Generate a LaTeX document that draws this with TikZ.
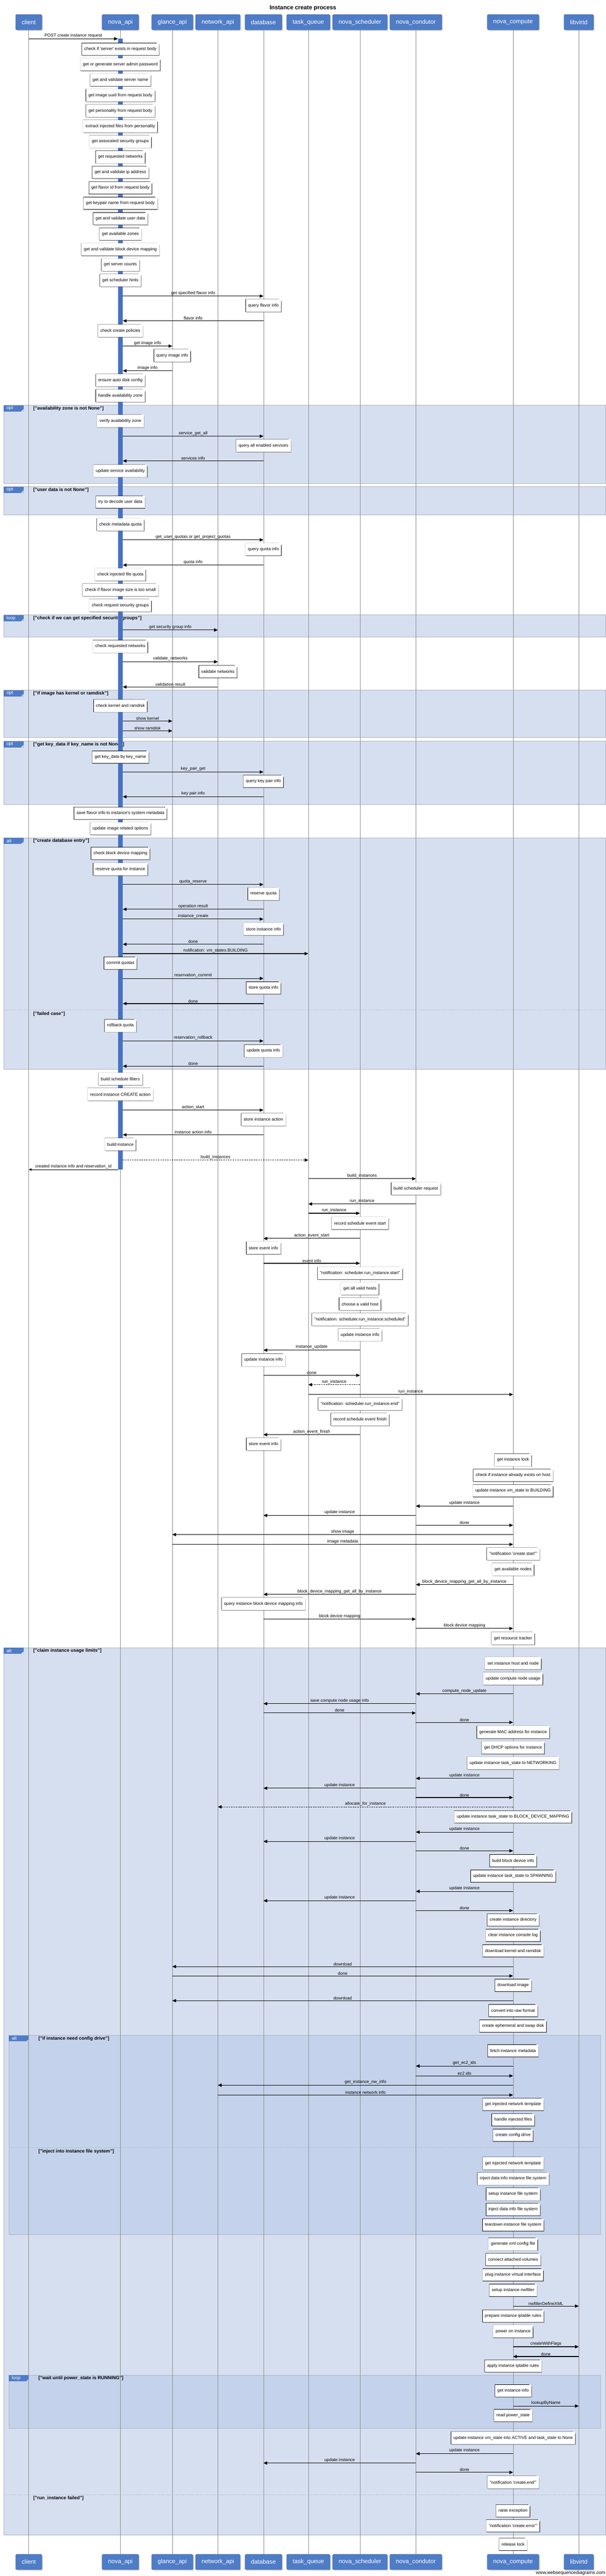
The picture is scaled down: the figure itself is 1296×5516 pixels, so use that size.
\documentclass[tikz,border=0pt]{standalone}
\usepackage{fontspec}
\setmainfont{Liberation Sans}
\usetikzlibrary{positioning,arrows.meta,shadows,backgrounds}
\definecolor{actorblue}{RGB}{79,124,198}
\definecolor{actorline}{RGB}{52,88,150}
\definecolor{barblue}{RGB}{70,114,196}
\definecolor{fbg}{RGB}{214,223,240}
\definecolor{fbgin}{RGB}{196,210,235}
\definecolor{fbd}{RGB}{172,179,192}
\begin{document}
\begin{tikzpicture}[x=1pt, y=-1pt, node distance=5405pt,
  actor/.style = {draw=actorline, fill=actorblue, rounded corners=2pt, text=white, font=\fontsize{12.9}{15}\selectfont, minimum height=33pt, inner xsep=13pt, drop shadow={shadow xshift=2pt, shadow yshift=-2pt, opacity=.35}},
  life/.style = {draw=black!45, line width=.6pt},
  actbar/.style = {fill=barblue, minimum width=10pt, inner sep=0pt, anchor=north},
  memo/.style = {fill=white, anchor=north, minimum height=26pt, inner xsep=5pt, inner ysep=1pt, font=\fontsize{9.2}{11}\selectfont, drop shadow={shadow xshift=2pt, shadow yshift=-2pt, opacity=.3},
    append after command={\pgfextra{
      \draw[line width=.8pt] (\tikzlastnode.north west) -- ([xshift=-5pt]\tikzlastnode.north east) -- ([yshift=-5pt]\tikzlastnode.north east) |- (\tikzlastnode.south west) -- cycle;
      \draw[line width=.5pt] ([xshift=-5pt]\tikzlastnode.north east) |- ([yshift=-5pt]\tikzlastnode.north east);}}},
  msg/.style = {-{Triangle[length=8pt, width=7pt]}, line width=1.2pt},
  async/.style = {msg, dash pattern=on 3pt off 2pt},
  reply/.style = {-{Triangle[length=6pt, width=5pt]}, line width=.8pt},
  lbl/.style = {above, inner sep=1.5pt, font=\fontsize{9.2}{11}\selectfont},
  fragment/.style = {fill=fbg, draw=fbd, line width=.8pt},
  subfragment/.style = {fill=fbgin, draw=fbd, line width=.8pt},
  tab/.style = {fill=actorblue, text=white, anchor=north west, text width=30pt, align=left, inner xsep=6pt, inner ysep=0pt, minimum height=13pt, font=\fontsize{10}{12}\selectfont,
    path picture={\fill[#1] ([xshift=-5pt]path picture bounding box.south east) -- (path picture bounding box.south east) -- ([yshift=5pt]path picture bounding box.south east) -- cycle;}},
  guard/.style = {anchor=west, inner sep=0pt, font=\bfseries\fontsize{10}{12}\selectfont},
  divider/.style = {draw=fbd, line width=.8pt, dash pattern=on 2pt off 2pt}]
\useasboundingbox (0,0) rectangle (1296,5516);
\node[font=\bfseries\fontsize{12.5}{15}\selectfont] (title) at (648,17) {Instance create process};

\node[actor] (client) at (61.5,47.5) {client};
\node[actor] (api) at (257.5,47.5) {nova\_api};
\node[actor] (glance) at (368.5,47.5) {glance\_api};
\node[actor] (network) at (466,47.5) {network\_api};
\node[actor] (db) at (563.5,47.5) {database};
\node[actor] (queue) at (659.5,47.5) {task\_queue};
\node[actor] (sched) at (770,47.5) {nova\_scheduler};
\node[actor] (cond) at (889.5,47.5) {nova\_condutor};
\node[actor] (compute) at (1097.5,47.5) {nova\_compute};
\node[actor] (libvirt) at (1238,47.5) {libvirtd};
\node[actor] (client-b) [below=of client] {client};
\node[actor] (api-b) [below=of api] {nova\_api};
\node[actor] (glance-b) [below=of glance] {glance\_api};
\node[actor] (network-b) [below=of network] {network\_api};
\node[actor] (db-b) [below=of db] {database};
\node[actor] (queue-b) [below=of queue] {task\_queue};
\node[actor] (sched-b) [below=of sched] {nova\_scheduler};
\node[actor] (cond-b) [below=of cond] {nova\_condutor};
\node[actor] (compute-b) [below=of compute] {nova\_compute};
\node[actor] (libvirt-b) [below=of libvirt] {libvirtd};
\draw[life] (client) -- (client-b);
\draw[life] (api) -- (api-b);
\draw[life] (glance) -- (glance-b);
\draw[life] (network) -- (network-b);
\draw[life] (db) -- (db-b);
\draw[life] (queue) -- (queue-b);
\draw[life] (sched) -- (sched-b);
\draw[life] (cond) -- (cond-b);
\draw[life] (compute) -- (compute-b);
\draw[life] (libvirt) -- (libvirt-b);
\node[anchor=east, inner sep=0pt, font=\fontsize{10}{12}\selectfont] (wsd) at (1295,5510) {www.websequencediagrams.com};

\node[actbar, minimum height=2421pt] (bar) at (api |- 0,83) {};
\draw[msg] (client |- bar.north) -- node[lbl] {POST create instance request} (bar.north west);
\node[memo] (n1) at (api |- 0,92) {check if \textquotesingle server\textquotesingle{} exists in request body};
\node[memo] (n2) at (api |- 0,125) {get or generate server admin password};
\node[memo] (n3) at (api |- 0,158) {get and validate server name};
\node[memo] (n4) at (api |- 0,191) {get image uuid from request body};
\node[memo] (n5) at (api |- 0,224) {get personality from request body};
\node[memo] (n6) at (api |- 0,257) {extract injected files from personality};
\node[memo] (n7) at (api |- 0,290) {get assocated security groups};
\node[memo] (n8) at (api |- 0,323) {get requested networks};
\node[memo] (n9) at (api |- 0,356) {get and validate ip address};
\node[memo] (n10) at (api |- 0,389) {get flavor id from request body};
\node[memo] (n11) at (api |- 0,422) {get keypair name from request body};
\node[memo] (n12) at (api |- 0,455) {get and validate user data};
\node[memo] (n13) at (api |- 0,488) {get available zones};
\node[memo] (n14) at (api |- 0,521) {get and validate block device mapping};
\node[memo] (n15) at (api |- 0,554) {get server counts};
\node[memo] (n16) at (api |- 0,587) {get scheduler hints};
\draw[msg] (bar.east |- 0,634) -- node[lbl] {get specified flavor info} (db |- 0,634);
\node[memo] (n17) at (db |- 0,641) {query flavor info};
\draw[msg] (db |- 0,687) -- node[lbl] {flavor info} (bar.east |- 0,687);
\node[memo] (n18) at (api |- 0,695) {check create policies};
\draw[msg] (bar.east |- 0,741) -- node[lbl] {get image info} (glance |- 0,741);
\node[memo] (n19) at (glance |- 0,748) {query image info};
\draw[msg] (glance |- 0,794) -- node[lbl] {image info} (bar.east |- 0,794);
\node[memo] (n20) at (api |- 0,801) {ensure auto disk config};
\node[memo] (n21) at (api |- 0,834) {handle availability zone};
\node[memo] (n22) at (api |- 0,888) {verify availability zone};
\draw[msg] (bar.east |- 0,934) -- node[lbl] {service\_get\_all} (db |- 0,934);
\node[memo] (n23) at (db |- 0,941) {query all enabled services};
\draw[msg] (db |- 0,987) -- node[lbl] {services info} (bar.east |- 0,987);
\node[memo] (n24) at (api |- 0,995) {update service availability};
\node[memo] (n25) at (api |- 0,1062) {try to decode user data};
\node[memo] (n26) at (api |- 0,1110) {check metadata quota};
\draw[msg] (bar.east |- 0,1156) -- node[lbl] {get\_user\_quotas or get\_project\_quotas} (db |- 0,1156);
\node[memo] (n27) at (db |- 0,1163) {query quota info};
\draw[msg] (db |- 0,1210) -- node[lbl] {quota info} (bar.east |- 0,1210);
\node[memo] (n28) at (api |- 0,1217) {check injected file quota};
\node[memo] (n29) at (api |- 0,1250) {check if flavor image size is too small};
\node[memo] (n30) at (api |- 0,1283) {check request security groups};
\draw[msg] (bar.east |- 0,1349) -- node[lbl] {get security group info} (network |- 0,1349);
\node[memo] (n31) at (api |- 0,1371) {check requested networks};
\draw[msg] (bar.east |- 0,1417) -- node[lbl] {validate\_networks} (network |- 0,1417);
\node[memo] (n32) at (network |- 0,1425) {validate networks};
\draw[msg] (network |- 0,1471) -- node[lbl] {validation result} (bar.east |- 0,1471);
\node[memo] (n33) at (api |- 0,1498) {check kernel and ramdisk};
\draw[msg] (bar.east |- 0,1544) -- node[lbl] {show kernel} (glance |- 0,1544);
\draw[msg] (bar.east |- 0,1565) -- node[lbl] {show ramdisk} (glance |- 0,1565);
\node[memo] (n34) at (api |- 0,1608) {get key\_data by key\_name};
\draw[msg] (bar.east |- 0,1653) -- node[lbl] {key\_pair\_get} (db |- 0,1653);
\node[memo] (n35) at (db |- 0,1660) {query key pair info};
\draw[msg] (db |- 0,1706) -- node[lbl] {key pair info} (bar.east |- 0,1706);
\node[memo] (n36) at (api |- 0,1728) {save flavor info to instance\textquotesingle s system metadata};
\node[memo] (n37) at (api |- 0,1761) {update image related options};
\node[memo] (n38) at (api |- 0,1814) {check block device mapping};
\node[memo] (n39) at (api |- 0,1848) {reserve quota for instance};
\draw[msg] (bar.east |- 0,1894) -- node[lbl] {quota\_reserve} (db |- 0,1894);
\node[memo] (n40) at (db |- 0,1901) {reserve quota};
\draw[msg] (db |- 0,1947) -- node[lbl] {operation result} (bar.east |- 0,1947);
\draw[msg] (bar.east |- 0,1968) -- node[lbl] {instance\_create} (db |- 0,1968);
\node[memo] (n41) at (db |- 0,1976) {store instance info};
\draw[msg] (db |- 0,2022) -- node[lbl] {done} (bar.east |- 0,2022);
\draw[msg] (bar.east |- 0,2042) -- node[lbl] {notification: vm\_states.BUILDING} (queue |- 0,2042);
\node[memo] (n42) at (api |- 0,2049) {commit quotas};
\draw[msg] (bar.east |- 0,2095) -- node[lbl] {reservation\_commit} (db |- 0,2095);
\node[memo] (n43) at (db |- 0,2102) {store quota info};
\draw[msg] (db |- 0,2149) -- node[lbl] {done} (bar.east |- 0,2149);
\node[memo] (n44) at (api |- 0,2183) {rollback quota};
\draw[msg] (bar.east |- 0,2229) -- node[lbl] {reservation\_rollback} (db |- 0,2229);
\node[memo] (n45) at (db |- 0,2237) {update quota info};
\draw[msg] (db |- 0,2283) -- node[lbl] {done} (bar.east |- 0,2283);
\node[memo] (n46) at (api |- 0,2297) {build schedule filters};
\node[memo] (n47) at (api |- 0,2330) {record instance CREATE action};
\draw[msg] (bar.east |- 0,2377) -- node[lbl] {action\_start} (db |- 0,2377);
\node[memo] (n48) at (db |- 0,2384) {store instance action};
\draw[msg] (db |- 0,2430) -- node[lbl] {instance action info} (bar.east |- 0,2430);
\node[memo] (n49) at (api |- 0,2437) {build instance};
\draw[async] (bar.east |- 0,2484) -- node[lbl] {build\_instances} (queue |- 0,2484);
\draw[reply] (bar.south west) -- node[lbl] {created instance info and reservation\_id} (client |- bar.south);
\draw[msg] (queue |- 0,2524) -- node[lbl] {build\_instances} (cond |- 0,2524);
\node[memo] (n50) at (cond |- 0,2532) {build scheduler request};
\draw[msg] (cond |- 0,2578) -- node[lbl] {run\_instance} (queue |- 0,2578);
\draw[msg] (queue |- 0,2598) -- node[lbl] {run\_instance} (sched |- 0,2598);
\node[memo] (n51) at (sched |- 0,2606) {record schedule event start};
\draw[msg] (sched |- 0,2652) -- node[lbl] {action\_event\_start} (db |- 0,2652);
\node[memo] (n52) at (db |- 0,2659) {store event info};
\draw[msg] (db |- 0,2705) -- node[lbl] {event info} (sched |- 0,2705);
\node[memo] (n53) at (sched |- 0,2713) {"notification: scheduler.run\_instance.start"};
\node[memo] (n54) at (sched |- 0,2746) {get all valid hosts};
\node[memo] (n55) at (sched |- 0,2779) {choose a valid host};
\node[memo] (n56) at (sched |- 0,2812) {"notification: scheduler.run\_instance.scheduled"};
\node[memo] (n57) at (sched |- 0,2845) {update instance info};
\draw[msg] (sched |- 0,2891) -- node[lbl] {instance\_update} (db |- 0,2891);
\node[memo] (n58) at (db |- 0,2899) {update instance info};
\draw[msg] (db |- 0,2945) -- node[lbl] {done} (sched |- 0,2945);
\draw[async] (sched |- 0,2965) -- node[lbl] {run\_instance} (queue |- 0,2965);
\draw[msg] (queue |- 0,2986) -- node[lbl] {run\_instance} (compute |- 0,2986);
\node[memo] (n59) at (sched |- 0,2993) {"notification: scheduler.run\_instance.end"};
\node[memo] (n60) at (sched |- 0,3026) {record schedule event finish};
\draw[msg] (sched |- 0,3072) -- node[lbl] {action\_event\_finish} (db |- 0,3072);
\node[memo] (n61) at (db |- 0,3079) {store event info};
\node[memo] (n62) at (compute |- 0,3113) {get instance lock};
\node[memo] (n63) at (compute |- 0,3146) {check if instance already exists on host};
\node[memo] (n64) at (compute |- 0,3179) {update instance vm\_state to BUILDING};
\draw[msg] (compute |- 0,3225) -- node[lbl] {update instance} (cond |- 0,3225);
\draw[msg] (cond |- 0,3245) -- node[lbl] {update instance} (db |- 0,3245);
\draw[msg] (cond |- 0,3266) -- node[lbl] {done} (compute |- 0,3266);
\draw[msg] (compute |- 0,3286) -- node[lbl] {show image} (glance |- 0,3286);
\draw[msg] (glance |- 0,3307) -- node[lbl] {image metadata} (compute |- 0,3307);
\node[memo] (n65) at (compute |- 0,3314) {"notification \textquotesingle create.start\textquotesingle "};
\node[memo] (n66) at (compute |- 0,3347) {get available nodes};
\draw[msg] (compute |- 0,3393) -- node[lbl] {block\_device\_mapping\_get\_all\_by\_instance} (cond |- 0,3393);
\draw[msg] (cond |- 0,3414) -- node[lbl] {block\_device\_mapping\_get\_all\_by\_instance} (db |- 0,3414);
\node[memo] (n67) at (db |- 0,3421) {query instance block device mapping info};
\draw[msg] (db |- 0,3467) -- node[lbl] {block device mapping} (cond |- 0,3467);
\draw[msg] (cond |- 0,3487) -- node[lbl] {block device mapping} (compute |- 0,3487);
\node[memo] (n68) at (compute |- 0,3495) {get resource tracker};
\node[memo] (n69) at (compute |- 0,3548) {set instance host and node};
\node[memo] (n70) at (compute |- 0,3581) {update compute node usage};
\draw[msg] (compute |- 0,3627) -- node[lbl] {compute\_node\_update} (cond |- 0,3627);
\draw[msg] (cond |- 0,3648) -- node[lbl] {save compute node usage info} (db |- 0,3648);
\draw[msg] (db |- 0,3668) -- node[lbl] {done} (cond |- 0,3668);
\draw[msg] (cond |- 0,3688) -- node[lbl] {done} (compute |- 0,3688);
\node[memo] (n71) at (compute |- 0,3696) {generate MAC address for instance};
\node[memo] (n72) at (compute |- 0,3729) {get DHCP options for instance};
\node[memo] (n73) at (compute |- 0,3762) {update instance task\_state to NETWORKING};
\draw[msg] (compute |- 0,3808) -- node[lbl] {update instance} (cond |- 0,3808);
\draw[msg] (cond |- 0,3829) -- node[lbl] {update instance} (db |- 0,3829);
\draw[msg] (cond |- 0,3849) -- node[lbl] {done} (compute |- 0,3849);
\draw[async] (compute |- 0,3869) -- node[lbl] {allocate\_for\_instance} (network |- 0,3869);
\node[memo] (n74) at (compute |- 0,3877) {update instance task\_state to BLOCK\_DEVICE\_MAPPING};
\draw[msg] (compute |- 0,3923) -- node[lbl] {update instance} (cond |- 0,3923);
\draw[msg] (cond |- 0,3943) -- node[lbl] {update instance} (db |- 0,3943);
\draw[msg] (cond |- 0,3963) -- node[lbl] {done} (compute |- 0,3963);
\node[memo] (n75) at (compute |- 0,3971) {build block device info};
\node[memo] (n76) at (compute |- 0,4004) {update instance task\_state to SPAWNING};
\draw[msg] (compute |- 0,4050) -- node[lbl] {update instance} (cond |- 0,4050);
\draw[msg] (cond |- 0,4070) -- node[lbl] {update instance} (db |- 0,4070);
\draw[msg] (cond |- 0,4091) -- node[lbl] {done} (compute |- 0,4091);
\node[memo] (n77) at (compute |- 0,4098) {create instance directory};
\node[memo] (n78) at (compute |- 0,4131) {clear instance console log};
\node[memo] (n79) at (compute |- 0,4164) {download kernel and ramdisk};
\draw[msg] (compute |- 0,4211) -- node[lbl] {download} (glance |- 0,4211);
\draw[msg] (glance |- 0,4231) -- node[lbl] {done} (compute |- 0,4231);
\node[memo] (n80) at (compute |- 0,4238) {download image};
\draw[msg] (compute |- 0,4284) -- node[lbl] {download} (glance |- 0,4284);
\node[memo] (n81) at (compute |- 0,4292) {convert into raw format};
\node[memo] (n82) at (compute |- 0,4325) {create ephemeral and swap disk};
\node[memo] (n83) at (compute |- 0,4378) {fetch instance metadata};
\draw[msg] (compute |- 0,4424) -- node[lbl] {get\_ec2\_ids} (cond |- 0,4424);
\draw[msg] (cond |- 0,4445) -- node[lbl] {ec2 ids} (compute |- 0,4445);
\draw[msg] (compute |- 0,4465) -- node[lbl] {get\_instance\_nw\_info} (network |- 0,4465);
\draw[msg] (network |- 0,4486) -- node[lbl] {instance network info} (compute |- 0,4486);
\node[memo] (n84) at (compute |- 0,4493) {get injected network template};
\node[memo] (n85) at (compute |- 0,4526) {handle injected files};
\node[memo] (n86) at (compute |- 0,4559) {create config drive};
\node[memo] (n87) at (compute |- 0,4619) {get injected network template};
\node[memo] (n88) at (compute |- 0,4652) {inject data info instance file system};
\node[memo] (n89) at (compute |- 0,4685) {setup instance file system};
\node[memo] (n90) at (compute |- 0,4718) {inject data info file system};
\node[memo] (n91) at (compute |- 0,4751) {teardown instance file system};
\node[memo] (n92) at (compute |- 0,4792) {generate xml config file};
\node[memo] (n93) at (compute |- 0,4825) {connect attached volumes};
\node[memo] (n94) at (compute |- 0,4858) {plug instance virtual interface};
\node[memo] (n95) at (compute |- 0,4891) {setup instance nwfilter};
\draw[msg] (compute |- 0,4938) -- node[lbl] {nwfilterDefineXML} (libvirt |- 0,4938);
\node[memo] (n96) at (compute |- 0,4946) {prepare instance iptable rules};
\node[memo] (n97) at (compute |- 0,4979) {power on instance};
\draw[msg] (compute |- 0,5025) -- node[lbl] {createWithFlags} (libvirt |- 0,5025);
\draw[msg] (libvirt |- 0,5046) -- node[lbl] {done} (compute |- 0,5046);
\node[memo] (n98) at (compute |- 0,5053) {apply instance iptable rules};
\node[memo] (n99) at (compute |- 0,5106) {get instance info};
\draw[msg] (compute |- 0,5152) -- node[lbl] {lookupByName} (libvirt |- 0,5152);
\node[memo] (n100) at (compute |- 0,5159) {read power\_state};
\node[memo] (n101) at (compute |- 0,5207) {update instance vm\_state into ACTIVE and task\_state to None};
\draw[msg] (compute |- 0,5254) -- node[lbl] {update instance} (cond |- 0,5254);
\draw[msg] (cond |- 0,5274) -- node[lbl] {update instance} (db |- 0,5274);
\draw[msg] (cond |- 0,5294) -- node[lbl] {done} (compute |- 0,5294);
\node[memo] (n102) at (compute |- 0,5302) {"notification \textquotesingle create.end\textquotesingle "};
\node[memo] (n103) at (compute |- 0,5363) {raise exception};
\node[memo] (n104) at (compute |- 0,5395) {"notification \textquotesingle create.error\textquotesingle "};
\node[memo] (n105) at (compute |- 0,5435) {release lock};

\begin{scope}[on background layer]
\draw[fragment] (8,868) rectangle (1295,1035);
\node[tab=fbg] (t1) at (8,868) {opt};
\node[guard] (g1) at (71,875) {["availability zone is not None"]};
\draw[fragment] (8,1042) rectangle (1295,1103);
\node[tab=fbg] (t2) at (8,1042) {opt};
\node[guard] (g2) at (71,1049) {["user data is not None"]};
\draw[fragment] (8,1317) rectangle (1295,1364);
\node[tab=fbg] (t3) at (8,1317) {loop};
\node[guard] (g3) at (71,1324) {["check if we can get specified security groups"]};
\draw[fragment] (8,1478) rectangle (1295,1579);
\node[tab=fbg] (t4) at (8,1478) {opt};
\node[guard] (g4) at (71,1485) {["if image has kernel or ramdisk"]};
\draw[fragment] (8,1587) rectangle (1295,1722);
\node[tab=fbg] (t5) at (8,1587) {opt};
\node[guard] (g5) at (71,1594) {["get key\_data if key\_name is not None"]};
\draw[fragment] (8,1794) rectangle (1295,2290);
\node[tab=fbg] (t6) at (8,1794) {alt};
\node[guard] (g6) at (71,1801) {["create database entry"]};
\draw[divider] (8,2163) -- (1295,2163);
\node[guard] (g7) at (71,2171) {["failed case"]};
\draw[fragment] (8,3528) rectangle (1295,5428);
\node[tab=fbg] (t8) at (8,3528) {alt};
\node[guard] (g8) at (71,3535) {["claim instance usage limits"]};
\draw[divider] (8,5342) -- (1295,5342);
\node[guard] (g9) at (71,5350) {["run\_instance failed"]};
\draw[subfragment] (19,4358) rectangle (1284,4785);
\node[tab=fbgin] (t10) at (19,4358) {alt};
\node[guard] (g10) at (82,4365) {["if instance need config drive"]};
\draw[divider] (19,4599) -- (1284,4599);
\node[guard] (g11) at (82,4607) {["inject into instance file system"]};
\draw[subfragment] (19,5086) rectangle (1284,5200);
\node[tab=fbgin] (t12) at (19,5086) {loop};
\node[guard] (g12) at (82,5093) {["wait until power\_state is RUNNING"]};
\end{scope}
\end{tikzpicture}
\end{document}
